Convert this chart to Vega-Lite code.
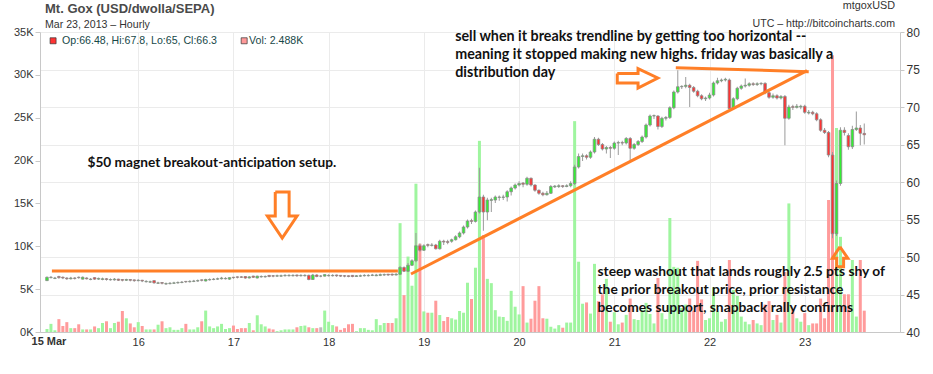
{
"$schema": "https://vega.github.io/schema/vega-lite/v6.json",
"width": 860, "height": 300,
"autosize": {"type": "none"},
"padding": {"left": 40, "top": 32, "right": 33, "bottom": 42},
"background": "white",
"config": {"view": {"stroke": null}, "axis": {"labelFont": "Liberation Sans", "labelFontSize": 11, "labelColor": "#333333", "domainColor": "#c8c8c8", "tickColor": "#c8c8c8", "gridColor": "#ebebeb"}},
"datasets": {
"ohlc": [
{"t":1,"o":46.85,"hi":47.4,"lo":46.8,"c":47.3,"v":0.35},
{"t":2,"o":47.25,"hi":47.45,"lo":47.15,"c":47.3,"v":0.95},
{"t":3,"o":47.15,"hi":47.35,"lo":47.05,"c":47.2,"v":0.2},
{"t":4,"o":47.4,"hi":47.5,"lo":47.1,"c":47.25,"v":1.5},
{"t":5,"o":47.3,"hi":47.4,"lo":47.05,"c":47.2,"v":0.7},
{"t":6,"o":47.2,"hi":47.3,"lo":46.95,"c":47.1,"v":1.15},
{"t":7,"o":47.1,"hi":47.35,"lo":47.0,"c":47.2,"v":0.45},
{"t":8,"o":47.2,"hi":47.3,"lo":47.0,"c":47.15,"v":0.45},
{"t":9,"o":47.3,"hi":47.4,"lo":47.1,"c":47.25,"v":0.9},
{"t":10,"o":47.05,"hi":47.4,"lo":47.0,"c":47.3,"v":0.3},
{"t":11,"o":47.2,"hi":47.3,"lo":47.0,"c":47.1,"v":0.3},
{"t":12,"o":47.0,"hi":47.2,"lo":46.9,"c":47.05,"v":0.3},
{"t":13,"o":47.25,"hi":47.3,"lo":46.95,"c":47.05,"v":0.65},
{"t":14,"o":47.05,"hi":47.25,"lo":46.95,"c":47.15,"v":0.45},
{"t":15,"o":47.0,"hi":47.25,"lo":46.9,"c":47.1,"v":1.05},
{"t":16,"o":47.1,"hi":47.2,"lo":46.85,"c":47.0,"v":1.25},
{"t":17,"o":46.95,"hi":47.15,"lo":46.85,"c":47.0,"v":0.45},
{"t":18,"o":46.95,"hi":47.2,"lo":46.85,"c":47.05,"v":1.05},
{"t":19,"o":47.05,"hi":47.1,"lo":46.8,"c":46.9,"v":1.2},
{"t":20,"o":47.0,"hi":47.05,"lo":46.75,"c":46.9,"v":2.45},
{"t":21,"o":46.9,"hi":47.1,"lo":46.8,"c":47.0,"v":1.6},
{"t":22,"o":47.0,"hi":47.05,"lo":46.75,"c":46.9,"v":1.0},
{"t":23,"o":46.95,"hi":47.0,"lo":46.7,"c":46.85,"v":0.55},
{"t":24,"o":46.85,"hi":47.05,"lo":46.75,"c":46.9,"v":1.15},
{"t":25,"o":46.9,"hi":46.95,"lo":46.65,"c":46.8,"v":0.7},
{"t":26,"o":46.7,"hi":46.9,"lo":46.6,"c":46.75,"v":0.3},
{"t":27,"o":46.65,"hi":46.85,"lo":46.55,"c":46.7,"v":0.3},
{"t":28,"o":46.85,"hi":46.9,"lo":46.45,"c":46.55,"v":0.3},
{"t":29,"o":46.5,"hi":46.7,"lo":46.4,"c":46.55,"v":0.85},
{"t":30,"o":46.6,"hi":46.65,"lo":46.35,"c":46.5,"v":1.25},
{"t":31,"o":46.4,"hi":46.6,"lo":46.3,"c":46.45,"v":0.45},
{"t":32,"o":46.45,"hi":46.65,"lo":46.35,"c":46.5,"v":0.55},
{"t":33,"o":46.5,"hi":46.7,"lo":46.4,"c":46.55,"v":0.25},
{"t":34,"o":46.55,"hi":46.75,"lo":46.45,"c":46.6,"v":0.25},
{"t":35,"o":46.6,"hi":46.8,"lo":46.5,"c":46.65,"v":0.45},
{"t":36,"o":46.75,"hi":46.8,"lo":46.55,"c":46.7,"v":0.95},
{"t":37,"o":46.7,"hi":46.9,"lo":46.6,"c":46.75,"v":0.3},
{"t":38,"o":46.75,"hi":46.95,"lo":46.65,"c":46.8,"v":0.3},
{"t":39,"o":46.8,"hi":47.0,"lo":46.7,"c":46.85,"v":0.55},
{"t":40,"o":46.95,"hi":47.0,"lo":46.75,"c":46.9,"v":1.25},
{"t":41,"o":46.8,"hi":47.1,"lo":46.75,"c":47.0,"v":2.5},
{"t":42,"o":46.95,"hi":47.15,"lo":46.85,"c":47.0,"v":0.65},
{"t":43,"o":47.0,"hi":47.2,"lo":46.9,"c":47.05,"v":0.45},
{"t":44,"o":47.05,"hi":47.25,"lo":46.95,"c":47.1,"v":0.65},
{"t":45,"o":47.1,"hi":47.35,"lo":47.0,"c":47.2,"v":0.95},
{"t":46,"o":47.1,"hi":47.3,"lo":47.0,"c":47.15,"v":0.35},
{"t":47,"o":47.05,"hi":47.3,"lo":46.95,"c":47.25,"v":0.45},
{"t":48,"o":47.3,"hi":47.35,"lo":47.1,"c":47.25,"v":0.75},
{"t":49,"o":47.35,"hi":47.4,"lo":47.15,"c":47.3,"v":0.35},
{"t":50,"o":47.35,"hi":47.45,"lo":47.2,"c":47.3,"v":0.45},
{"t":51,"o":47.4,"hi":47.45,"lo":47.1,"c":47.2,"v":0.45},
{"t":52,"o":47.2,"hi":47.45,"lo":47.15,"c":47.35,"v":1.05},
{"t":53,"o":47.45,"hi":47.5,"lo":47.2,"c":47.3,"v":0.2},
{"t":54,"o":47.2,"hi":47.5,"lo":47.15,"c":47.45,"v":1.95},
{"t":55,"o":47.35,"hi":47.55,"lo":47.25,"c":47.4,"v":0.9},
{"t":56,"o":47.35,"hi":47.55,"lo":47.25,"c":47.4,"v":0.65},
{"t":57,"o":47.55,"hi":47.6,"lo":47.3,"c":47.4,"v":0.4},
{"t":58,"o":47.5,"hi":47.6,"lo":47.3,"c":47.45,"v":0.3},
{"t":59,"o":47.45,"hi":47.65,"lo":47.35,"c":47.5,"v":0.1},
{"t":60,"o":47.45,"hi":47.65,"lo":47.35,"c":47.5,"v":0.2},
{"t":61,"o":47.5,"hi":47.7,"lo":47.4,"c":47.55,"v":0.3},
{"t":62,"o":47.5,"hi":47.7,"lo":47.4,"c":47.55,"v":0.3},
{"t":63,"o":47.5,"hi":47.7,"lo":47.4,"c":47.55,"v":0.3},
{"t":64,"o":47.6,"hi":47.65,"lo":47.35,"c":47.5,"v":0.55},
{"t":65,"o":47.5,"hi":47.7,"lo":47.4,"c":47.55,"v":0.7},
{"t":66,"o":47.5,"hi":47.7,"lo":47.4,"c":47.55,"v":0.75},
{"t":67,"o":47.55,"hi":47.65,"lo":46.9,"c":47.0,"v":0.55},
{"t":68,"o":47.0,"hi":47.75,"lo":46.95,"c":47.6,"v":0.45},
{"t":69,"o":47.6,"hi":47.7,"lo":47.3,"c":47.4,"v":0.45},
{"t":70,"o":47.45,"hi":47.6,"lo":47.3,"c":47.45,"v":0.55},
{"t":71,"o":47.45,"hi":47.7,"lo":47.4,"c":47.65,"v":2.5},
{"t":72,"o":47.5,"hi":47.7,"lo":47.4,"c":47.55,"v":1.2},
{"t":73,"o":47.5,"hi":47.7,"lo":47.4,"c":47.55,"v":0.8},
{"t":74,"o":47.6,"hi":47.65,"lo":47.35,"c":47.5,"v":0.65},
{"t":75,"o":47.55,"hi":47.6,"lo":47.35,"c":47.45,"v":0.25},
{"t":76,"o":47.5,"hi":47.6,"lo":47.3,"c":47.45,"v":0.45},
{"t":77,"o":47.5,"hi":47.55,"lo":47.3,"c":47.4,"v":0.9},
{"t":78,"o":47.55,"hi":47.6,"lo":47.3,"c":47.4,"v":0.95},
{"t":79,"o":47.4,"hi":47.6,"lo":47.35,"c":47.5,"v":0.1},
{"t":80,"o":47.45,"hi":47.65,"lo":47.35,"c":47.5,"v":0.45},
{"t":81,"o":47.5,"hi":47.7,"lo":47.4,"c":47.55,"v":0.45},
{"t":82,"o":47.5,"hi":47.7,"lo":47.4,"c":47.55,"v":0.25},
{"t":83,"o":47.55,"hi":47.75,"lo":47.45,"c":47.6,"v":0.2},
{"t":84,"o":47.5,"hi":47.75,"lo":47.45,"c":47.6,"v":1.5},
{"t":85,"o":47.55,"hi":47.8,"lo":47.45,"c":47.65,"v":0.8},
{"t":86,"o":47.6,"hi":47.8,"lo":47.5,"c":47.65,"v":1.05},
{"t":87,"o":47.7,"hi":47.75,"lo":47.5,"c":47.6,"v":1.05},
{"t":88,"o":47.7,"hi":47.8,"lo":47.5,"c":47.6,"v":1.05},
{"t":89,"o":47.6,"hi":47.85,"lo":47.55,"c":47.7,"v":1.6},
{"t":90,"o":47.7,"hi":48.8,"lo":47.6,"c":48.6,"v":12.7},
{"t":91,"o":48.6,"hi":48.75,"lo":48.0,"c":48.1,"v":4.3},
{"t":92,"o":48.1,"hi":49.2,"lo":48.0,"c":48.9,"v":8.8},
{"t":93,"o":48.9,"hi":49.7,"lo":48.8,"c":49.5,"v":5.4},
{"t":94,"o":49.5,"hi":53.2,"lo":49.3,"c":51.5,"v":17.3},
{"t":95,"o":51.5,"hi":51.8,"lo":50.7,"c":50.9,"v":10.3},
{"t":96,"o":50.9,"hi":51.7,"lo":50.8,"c":51.5,"v":2.4},
{"t":97,"o":51.65,"hi":51.8,"lo":51.3,"c":51.55,"v":2.25},
{"t":98,"o":51.55,"hi":51.85,"lo":51.4,"c":51.6,"v":2.25},
{"t":99,"o":51.6,"hi":51.75,"lo":51.0,"c":51.1,"v":3.65},
{"t":100,"o":51.1,"hi":52.3,"lo":51.0,"c":52.1,"v":1.98},
{"t":101,"o":52.1,"hi":52.3,"lo":51.6,"c":52.0,"v":1.28},
{"t":102,"o":52.05,"hi":52.3,"lo":51.7,"c":51.95,"v":1.75},
{"t":103,"o":52.1,"hi":52.45,"lo":51.9,"c":52.3,"v":1.6},
{"t":104,"o":52.3,"hi":52.9,"lo":52.2,"c":52.7,"v":1.45},
{"t":105,"o":52.7,"hi":53.4,"lo":52.5,"c":53.2,"v":2.45},
{"t":106,"o":53.2,"hi":54.2,"lo":53.0,"c":54.0,"v":2.25},
{"t":107,"o":54.0,"hi":55.0,"lo":53.8,"c":54.8,"v":5.75},
{"t":108,"o":54.85,"hi":55.1,"lo":54.4,"c":54.75,"v":3.85},
{"t":109,"o":54.75,"hi":56.2,"lo":54.6,"c":56.0,"v":7.5},
{"t":110,"o":56.0,"hi":61.9,"lo":55.8,"c":58.0,"v":22.3},
{"t":111,"o":58.0,"hi":58.3,"lo":53.5,"c":56.0,"v":11.3},
{"t":112,"o":56.0,"hi":57.9,"lo":54.9,"c":57.6,"v":6.2},
{"t":113,"o":57.55,"hi":57.9,"lo":56.0,"c":57.65,"v":5.7},
{"t":114,"o":57.6,"hi":58.2,"lo":57.2,"c":58.0,"v":2.55},
{"t":115,"o":57.95,"hi":58.2,"lo":57.5,"c":58.0,"v":1.8},
{"t":116,"o":57.95,"hi":58.3,"lo":57.6,"c":58.0,"v":1.75},
{"t":117,"o":58.0,"hi":58.9,"lo":57.4,"c":58.7,"v":1.3},
{"t":118,"o":58.7,"hi":59.4,"lo":58.2,"c":59.2,"v":4.8},
{"t":119,"o":59.2,"hi":59.8,"lo":59.0,"c":59.6,"v":2.95},
{"t":120,"o":59.6,"hi":60.1,"lo":59.4,"c":59.8,"v":2.05},
{"t":121,"o":59.85,"hi":60.0,"lo":59.3,"c":59.7,"v":5.35},
{"t":122,"o":59.7,"hi":60.7,"lo":59.5,"c":60.5,"v":1.1},
{"t":123,"o":60.5,"hi":60.6,"lo":59.4,"c":59.6,"v":1.55},
{"t":124,"o":59.6,"hi":59.7,"lo":58.7,"c":58.9,"v":3.65},
{"t":125,"o":58.9,"hi":59.0,"lo":58.3,"c":58.5,"v":5.35},
{"t":126,"o":58.5,"hi":58.7,"lo":58.1,"c":58.3,"v":1.6},
{"t":127,"o":58.3,"hi":58.8,"lo":58.2,"c":58.5,"v":1.55},
{"t":128,"o":58.5,"hi":59.6,"lo":58.4,"c":59.4,"v":0.6},
{"t":129,"o":59.35,"hi":59.6,"lo":59.2,"c":59.45,"v":0.4},
{"t":130,"o":59.4,"hi":59.7,"lo":59.2,"c":59.5,"v":0.8},
{"t":131,"o":59.5,"hi":59.6,"lo":59.2,"c":59.4,"v":0.5},
{"t":132,"o":59.4,"hi":59.7,"lo":59.3,"c":59.5,"v":1.1},
{"t":133,"o":59.5,"hi":60.1,"lo":59.3,"c":59.8,"v":1.1},
{"t":134,"o":59.8,"hi":62.3,"lo":59.6,"c":62.0,"v":24.6},
{"t":135,"o":62.0,"hi":63.8,"lo":61.8,"c":63.4,"v":8.2},
{"t":136,"o":63.4,"hi":63.8,"lo":62.8,"c":63.5,"v":3.3},
{"t":137,"o":63.5,"hi":63.7,"lo":63.0,"c":63.3,"v":3.45},
{"t":138,"o":63.3,"hi":64.2,"lo":63.1,"c":64.0,"v":2.15},
{"t":139,"o":64.0,"hi":66.0,"lo":63.8,"c":65.7,"v":7.95},
{"t":140,"o":65.7,"hi":65.9,"lo":64.8,"c":65.0,"v":3.6},
{"t":141,"o":65.0,"hi":65.2,"lo":64.2,"c":64.4,"v":4.4},
{"t":142,"o":64.4,"hi":64.8,"lo":63.8,"c":64.6,"v":6.2},
{"t":143,"o":64.6,"hi":64.8,"lo":63.2,"c":64.5,"v":1.2},
{"t":144,"o":64.5,"hi":65.4,"lo":64.3,"c":65.2,"v":2.3},
{"t":145,"o":65.2,"hi":65.5,"lo":63.6,"c":65.25,"v":0.9},
{"t":146,"o":65.25,"hi":65.5,"lo":64.9,"c":65.2,"v":1.1},
{"t":147,"o":65.2,"hi":66.0,"lo":65.0,"c":65.8,"v":2.0},
{"t":148,"o":65.8,"hi":66.0,"lo":62.9,"c":64.5,"v":3.9},
{"t":149,"o":64.5,"hi":65.2,"lo":64.3,"c":65.0,"v":1.5},
{"t":150,"o":65.0,"hi":65.6,"lo":64.8,"c":65.4,"v":1.4},
{"t":151,"o":65.4,"hi":66.2,"lo":65.2,"c":66.0,"v":2.6},
{"t":152,"o":66.0,"hi":67.8,"lo":65.8,"c":67.6,"v":3.4},
{"t":153,"o":67.6,"hi":69.0,"lo":67.4,"c":68.8,"v":2.1},
{"t":154,"o":68.8,"hi":69.0,"lo":68.4,"c":68.85,"v":1.0},
{"t":155,"o":68.8,"hi":68.9,"lo":67.0,"c":67.4,"v":6.3},
{"t":156,"o":67.4,"hi":68.7,"lo":67.2,"c":68.5,"v":2.2},
{"t":157,"o":68.5,"hi":68.8,"lo":68.2,"c":68.6,"v":1.5},
{"t":158,"o":68.6,"hi":70.1,"lo":68.4,"c":69.9,"v":13.3},
{"t":159,"o":69.9,"hi":72.2,"lo":69.7,"c":72.0,"v":7.6},
{"t":160,"o":72.0,"hi":74.9,"lo":71.8,"c":72.7,"v":7.5},
{"t":161,"o":72.7,"hi":72.9,"lo":72.4,"c":72.75,"v":2.8},
{"t":162,"o":72.75,"hi":74.0,"lo":72.5,"c":72.9,"v":3.2},
{"t":163,"o":72.9,"hi":73.1,"lo":70.0,"c":72.6,"v":3.9},
{"t":164,"o":72.6,"hi":72.8,"lo":71.9,"c":72.1,"v":2.5},
{"t":165,"o":72.1,"hi":72.3,"lo":71.3,"c":71.5,"v":8.3},
{"t":166,"o":71.5,"hi":71.7,"lo":70.9,"c":71.1,"v":3.8},
{"t":167,"o":71.1,"hi":71.4,"lo":70.8,"c":71.2,"v":1.4},
{"t":168,"o":71.2,"hi":71.9,"lo":71.0,"c":71.6,"v":1.6},
{"t":169,"o":71.6,"hi":73.4,"lo":71.4,"c":73.2,"v":5.2},
{"t":170,"o":73.2,"hi":73.9,"lo":73.0,"c":73.5,"v":2.4},
{"t":171,"o":73.5,"hi":73.8,"lo":73.3,"c":73.6,"v":1.2},
{"t":172,"o":73.6,"hi":73.9,"lo":73.4,"c":73.7,"v":1.5},
{"t":173,"o":73.6,"hi":73.8,"lo":69.5,"c":69.8,"v":8.4},
{"t":174,"o":69.8,"hi":71.3,"lo":69.6,"c":71.1,"v":4.9},
{"t":175,"o":71.1,"hi":72.7,"lo":70.9,"c":72.5,"v":4.2},
{"t":176,"o":72.5,"hi":73.0,"lo":72.3,"c":72.8,"v":1.8},
{"t":177,"o":72.8,"hi":73.8,"lo":72.6,"c":72.9,"v":1.2},
{"t":178,"o":72.9,"hi":73.3,"lo":72.7,"c":73.1,"v":0.9},
{"t":179,"o":73.1,"hi":73.3,"lo":72.8,"c":73.0,"v":1.4},
{"t":180,"o":73.0,"hi":73.3,"lo":72.8,"c":73.1,"v":1.0},
{"t":181,"o":73.1,"hi":73.3,"lo":72.9,"c":73.15,"v":0.8},
{"t":182,"o":73.15,"hi":73.3,"lo":71.7,"c":71.9,"v":3.2},
{"t":183,"o":71.9,"hi":72.1,"lo":71.1,"c":71.3,"v":3.6},
{"t":184,"o":71.3,"hi":71.8,"lo":71.1,"c":71.5,"v":1.4},
{"t":185,"o":71.5,"hi":71.7,"lo":71.0,"c":71.2,"v":2.0},
{"t":186,"o":71.2,"hi":71.6,"lo":71.0,"c":71.4,"v":1.1},
{"t":187,"o":71.4,"hi":71.6,"lo":64.9,"c":68.5,"v":7.0},
{"t":188,"o":68.5,"hi":70.3,"lo":68.3,"c":70.0,"v":15.0},
{"t":189,"o":70.05,"hi":70.3,"lo":69.6,"c":69.95,"v":2.6},
{"t":190,"o":69.95,"hi":70.4,"lo":69.8,"c":70.1,"v":1.6},
{"t":191,"o":70.0,"hi":70.3,"lo":69.7,"c":70.1,"v":1.2},
{"t":192,"o":70.1,"hi":70.3,"lo":69.1,"c":69.3,"v":2.2},
{"t":193,"o":69.2,"hi":69.6,"lo":69.0,"c":69.3,"v":0.8},
{"t":194,"o":69.3,"hi":69.5,"lo":68.9,"c":69.1,"v":1.0},
{"t":195,"o":69.1,"hi":69.3,"lo":68.1,"c":68.3,"v":1.0},
{"t":196,"o":68.3,"hi":68.5,"lo":66.7,"c":66.9,"v":3.9},
{"t":197,"o":66.9,"hi":67.2,"lo":66.4,"c":66.6,"v":1.6},
{"t":198,"o":66.6,"hi":66.8,"lo":63.3,"c":63.6,"v":15.4},
{"t":199,"o":63.6,"hi":64.0,"lo":52.5,"c":53.1,"v":32.3},
{"t":200,"o":53.1,"hi":60.2,"lo":52.8,"c":59.8,"v":23.8},
{"t":201,"o":59.8,"hi":67.3,"lo":59.5,"c":66.9,"v":11.1},
{"t":202,"o":66.9,"hi":67.3,"lo":66.2,"c":66.6,"v":4.4},
{"t":203,"o":66.2,"hi":66.5,"lo":64.3,"c":64.7,"v":4.4},
{"t":204,"o":64.7,"hi":67.5,"lo":64.4,"c":67.0,"v":8.4},
{"t":205,"o":67.0,"hi":69.4,"lo":66.8,"c":67.2,"v":1.8},
{"t":206,"o":67.2,"hi":67.6,"lo":64.9,"c":66.5,"v":8.4},
{"t":207,"o":66.48,"hi":67.8,"lo":65.0,"c":66.3,"v":2.488}
],
"ann": [
{"g":"h","k":1,"t":2.24,"p":48.13},{"g":"h","k":2,"t":89.44,"p":48.13},
{"g":"tr","k":1,"t":92.75,"p":47.73},{"g":"tr","k":2,"t":192.57,"p":74.84},
{"g":"top","k":1,"t":159.5,"p":75.24},{"g":"top","k":2,"t":193.0,"p":74.71},
{"g":"ra","k":1,"t":144.74,"p":74.47},{"g":"ra","k":2,"t":149.98,"p":74.47},{"g":"ra","k":3,"t":149.98,"p":75.13},{"g":"ra","k":4,"t":154.96,"p":73.87},{"g":"ra","k":5,"t":149.98,"p":72.53},{"g":"ra","k":6,"t":149.98,"p":73.2},{"g":"ra","k":7,"t":144.74,"p":73.2},{"g":"ra","k":8,"t":144.74,"p":74.47},
{"g":"da","k":1,"t":58.54,"p":58.67},{"g":"da","k":2,"t":62.03,"p":58.67},{"g":"da","k":3,"t":62.03,"p":55.47},{"g":"da","k":4,"t":64.03,"p":55.47},{"g":"da","k":5,"t":60.29,"p":52.53},{"g":"da","k":6,"t":56.55,"p":55.47},{"g":"da","k":7,"t":58.54,"p":55.47},{"g":"da","k":8,"t":58.54,"p":58.67},
{"g":"ua","k":1,"t":200.87,"p":51.37},{"g":"ua","k":2,"t":202.86,"p":49.83},{"g":"ua","k":3,"t":201.79,"p":49.83},{"g":"ua","k":4,"t":201.79,"p":48.71},{"g":"ua","k":5,"t":200.05,"p":48.71},{"g":"ua","k":6,"t":200.05,"p":49.83},{"g":"ua","k":7,"t":198.98,"p":49.83},{"g":"ua","k":8,"t":200.87,"p":51.37}
]
},
"layer": [
{"data": {"name": "ohlc"},
 "mark": {"type": "bar", "width": 3},
 "encoding": {
  "x": {"field": "t", "type": "quantitative", "scale": {"domain": [0.5, 214.75], "nice": false, "zero": false},
        "axis": {"orient": "bottom", "values": [24, 48, 72, 96, 120, 144, 168, 192], "labelExpr": "toString(15 + round(datum.value / 24))", "grid": true, "ticks": false, "labelPadding": 4, "title": null}},
  "y": {"field": "v", "type": "quantitative", "scale": {"domain": [0, 35], "nice": false},
        "axis": {"orient": "left", "values": [0, 5, 10, 15, 20, 25, 30, 35], "labelExpr": "datum.value + 'K'", "grid": false, "tickSize": 5, "labelPadding": 2, "title": null}},
  "y2": {"datum": 0},
  "color": {"condition": [{"test": "datum.c > datum.o", "value": "#9ff59f"}, {"test": "datum.c < datum.o", "value": "#ff9b9b"}], "value": "#bdbdbd"}
 }},
{"data": {"name": "ohlc"},
 "mark": {"type": "rule", "color": "#9a9a9a", "strokeWidth": 1},
 "encoding": {
  "x": {"field": "t", "type": "quantitative", "axis": {"orient": "bottom", "values": [24, 48, 72, 96, 120, 144, 168, 192], "labelExpr": "toString(15 + round(datum.value / 24))", "grid": true, "ticks": false, "labelPadding": 4, "title": null}},
  "y": {"field": "lo", "type": "quantitative", "scale": {"domain": [40, 80], "nice": false, "zero": false},
        "axis": {"orient": "right", "values": [40, 45, 50, 55, 60, 65, 70, 75, 80], "grid": true, "tickSize": 4, "labelPadding": 2, "labelFontSize": 12, "title": null}},
  "y2": {"field": "hi"}
 }},
{"data": {"name": "ohlc"},
 "mark": {"type": "bar", "width": 2.6, "stroke": "#8c8c8c", "strokeWidth": 0.8},
 "encoding": {
  "x": {"field": "t", "type": "quantitative", "axis": {"orient": "bottom", "values": [24, 48, 72, 96, 120, 144, 168, 192], "labelExpr": "toString(15 + round(datum.value / 24))", "grid": true, "ticks": false, "labelPadding": 4, "title": null}},
  "y": {"field": "o", "type": "quantitative", "scale": {"domain": [40, 80], "nice": false, "zero": false}, "axis": null},
  "y2": {"field": "c"},
  "fill": {"condition": [{"test": "datum.c > datum.o", "value": "#33ee33"}, {"test": "datum.c < datum.o", "value": "#ff3333"}], "value": "#aaaaaa"}
 }},
{"data": {"name": "ann"},
 "mark": {"type": "line", "color": "#ff7f27", "strokeWidth": 3, "strokeJoin": "miter"},
 "encoding": {
  "x": {"field": "t", "type": "quantitative", "axis": {"orient": "bottom", "values": [24, 48, 72, 96, 120, 144, 168, 192], "labelExpr": "toString(15 + round(datum.value / 24))", "grid": true, "ticks": false, "labelPadding": 4, "title": null}},
  "y": {"field": "p", "type": "quantitative", "scale": {"domain": [40, 80], "nice": false, "zero": false}, "axis": null},
  "detail": {"field": "g"},
  "order": {"field": "k"}
 }},
{"data": {"values": [{}]},
 "mark": {"type": "text", "align": "left", "baseline": "middle", "font": "Lato", "fontWeight": "bold", "fontSize": 14.3, "lineHeight": 18, "color": "#111111",
          "text": ["sell when it breaks trendline by getting too horizontal --", "meaning it stopped making new highs. friday was basically a", "distribution day"]},
 "encoding": {"x": {"datum": 103.89, "type": "quantitative", "axis": {"orient": "bottom", "values": [24, 48, 72, 96, 120, 144, 168, 192], "labelExpr": "toString(15 + round(datum.value / 24))", "grid": true, "ticks": false, "labelPadding": 4, "title": null}}, "y": {"datum": 79.4, "type": "quantitative", "scale": {"domain": [40, 80], "nice": false, "zero": false}, "axis": null}}},
{"data": {"values": [{}]},
 "mark": {"type": "text", "align": "left", "baseline": "middle", "font": "Lato", "fontWeight": "bold", "fontSize": 13.7, "color": "#111111", "text": "$50 magnet breakout-anticipation setup."},
 "encoding": {"x": {"datum": 11.2, "type": "quantitative", "axis": {"orient": "bottom", "values": [24, 48, 72, 96, 120, 144, 168, 192], "labelExpr": "toString(15 + round(datum.value / 24))", "grid": true, "ticks": false, "labelPadding": 4, "title": null}}, "y": {"datum": 62.53, "type": "quantitative", "scale": {"domain": [40, 80], "nice": false, "zero": false}, "axis": null}}},
{"data": {"values": [{}]},
 "mark": {"type": "text", "align": "left", "baseline": "middle", "font": "Lato", "fontWeight": "bold", "fontSize": 13.8, "lineHeight": 18, "color": "#111111",
          "text": ["steep washout that lands roughly 2.5 pts shy of", "the prior breakout price, prior resistance", "becomes support, snapback rally confirms"]},
 "encoding": {"x": {"datum": 139.76, "type": "quantitative", "axis": {"orient": "bottom", "values": [24, 48, 72, 96, 120, 144, 168, 192], "labelExpr": "toString(15 + round(datum.value / 24))", "grid": true, "ticks": false, "labelPadding": 4, "title": null}}, "y": {"datum": 48.04, "type": "quantitative", "scale": {"domain": [40, 80], "nice": false, "zero": false}, "axis": null}}},
{"data": {"values": [{}]},
 "mark": {"type": "point", "shape": "square", "size": 36, "filled": true, "fill": "#ff3333", "stroke": "#333333", "strokeWidth": 0.7, "opacity": 1},
 "encoding": {"x": {"datum": 2.54, "type": "quantitative", "axis": {"orient": "bottom", "values": [24, 48, 72, 96, 120, 144, 168, 192], "labelExpr": "toString(15 + round(datum.value / 24))", "grid": true, "ticks": false, "labelPadding": 4, "title": null}}, "y": {"datum": 78.83, "type": "quantitative", "scale": {"domain": [40, 80], "nice": false, "zero": false}, "axis": null}}},
{"data": {"values": [{}]},
 "mark": {"type": "point", "shape": "square", "size": 36, "filled": true, "fill": "#ff9999", "stroke": "#333333", "strokeWidth": 0.7, "opacity": 1},
 "encoding": {"x": {"datum": 50.7, "type": "quantitative", "axis": {"orient": "bottom", "values": [24, 48, 72, 96, 120, 144, 168, 192], "labelExpr": "toString(15 + round(datum.value / 24))", "grid": true, "ticks": false, "labelPadding": 4, "title": null}}, "y": {"datum": 78.83, "type": "quantitative", "scale": {"domain": [40, 80], "nice": false, "zero": false}, "axis": null}}},
{"data": {"values": [{}]},
 "mark": {"type": "text", "align": "left", "baseline": "middle", "font": "Liberation Sans", "fontSize": 10.6, "color": "#174848", "text": "Op:66.48, Hi:67.8, Lo:65, Cl:66.3"},
 "encoding": {"x": {"datum": 4.81, "type": "quantitative", "axis": {"orient": "bottom", "values": [24, 48, 72, 96, 120, 144, 168, 192], "labelExpr": "toString(15 + round(datum.value / 24))", "grid": true, "ticks": false, "labelPadding": 4, "title": null}}, "y": {"datum": 78.84, "type": "quantitative", "scale": {"domain": [40, 80], "nice": false, "zero": false}, "axis": null}}},
{"data": {"values": [{}]},
 "mark": {"type": "text", "align": "left", "baseline": "middle", "font": "Liberation Sans", "fontSize": 10.6, "color": "#174848", "text": "Vol: 2.488K"},
 "encoding": {"x": {"datum": 51.94, "type": "quantitative", "axis": {"orient": "bottom", "values": [24, 48, 72, 96, 120, 144, 168, 192], "labelExpr": "toString(15 + round(datum.value / 24))", "grid": true, "ticks": false, "labelPadding": 4, "title": null}}, "y": {"datum": 78.84, "type": "quantitative", "scale": {"domain": [40, 80], "nice": false, "zero": false}, "axis": null}}},
{"data": {"values": [{}]},
 "mark": {"type": "text", "align": "center", "baseline": "top", "font": "Liberation Sans", "fontSize": 11, "fontWeight": "bold", "color": "#333333", "text": "15 Mar"},
 "encoding": {"x": {"datum": 1.5, "type": "quantitative", "axis": {"orient": "bottom", "values": [24, 48, 72, 96, 120, 144, 168, 192], "labelExpr": "toString(15 + round(datum.value / 24))", "grid": true, "ticks": false, "labelPadding": 4, "title": null}}, "y": {"datum": 39.47, "type": "quantitative", "scale": {"domain": [40, 80], "nice": false, "zero": false}, "axis": null}}},
{"data": {"values": [{}]},
 "mark": {"type": "text", "align": "left", "baseline": "middle", "font": "Liberation Sans", "fontSize": 13, "fontWeight": "bold", "color": "#4a4a4a", "text": "Mt. Gox (USD/dwolla/SEPA)"},
 "encoding": {"x": {"datum": 0.5, "type": "quantitative", "axis": {"orient": "bottom", "values": [24, 48, 72, 96, 120, 144, 168, 192], "labelExpr": "toString(15 + round(datum.value / 24))", "grid": true, "ticks": false, "labelPadding": 4, "title": null}}, "y": {"datum": 83.07, "type": "quantitative", "scale": {"domain": [40, 80], "nice": false, "zero": false}, "axis": null}}},
{"data": {"values": [{}]},
 "mark": {"type": "text", "align": "left", "baseline": "middle", "font": "Liberation Sans", "fontSize": 10.6, "color": "#333333", "text": "Mar 23, 2013 – Hourly"},
 "encoding": {"x": {"datum": 0.5, "type": "quantitative", "axis": {"orient": "bottom", "values": [24, 48, 72, 96, 120, 144, 168, 192], "labelExpr": "toString(15 + round(datum.value / 24))", "grid": true, "ticks": false, "labelPadding": 4, "title": null}}, "y": {"datum": 80.93, "type": "quantitative", "scale": {"domain": [40, 80], "nice": false, "zero": false}, "axis": null}}},
{"data": {"values": [{}]},
 "mark": {"type": "text", "align": "right", "baseline": "middle", "font": "Liberation Sans", "fontSize": 10.8, "color": "#333333", "text": "mtgoxUSD"},
 "encoding": {"x": {"datum": 214.75, "type": "quantitative", "axis": {"orient": "bottom", "values": [24, 48, 72, 96, 120, 144, 168, 192], "labelExpr": "toString(15 + round(datum.value / 24))", "grid": true, "ticks": false, "labelPadding": 4, "title": null}}, "y": {"datum": 83.47, "type": "quantitative", "scale": {"domain": [40, 80], "nice": false, "zero": false}, "axis": null}}},
{"data": {"values": [{}]},
 "mark": {"type": "text", "align": "right", "baseline": "middle", "font": "Liberation Sans", "fontSize": 10.6, "color": "#333333", "text": "UTC – http://bitcoincharts.com"},
 "encoding": {"x": {"datum": 214.75, "type": "quantitative", "axis": {"orient": "bottom", "values": [24, 48, 72, 96, 120, 144, 168, 192], "labelExpr": "toString(15 + round(datum.value / 24))", "grid": true, "ticks": false, "labelPadding": 4, "title": null}}, "y": {"datum": 81.13, "type": "quantitative", "scale": {"domain": [40, 80], "nice": false, "zero": false}, "axis": null}}}
],
"resolve": {"scale": {"y": "independent"}, "axis": {"y": "independent"}}
}
